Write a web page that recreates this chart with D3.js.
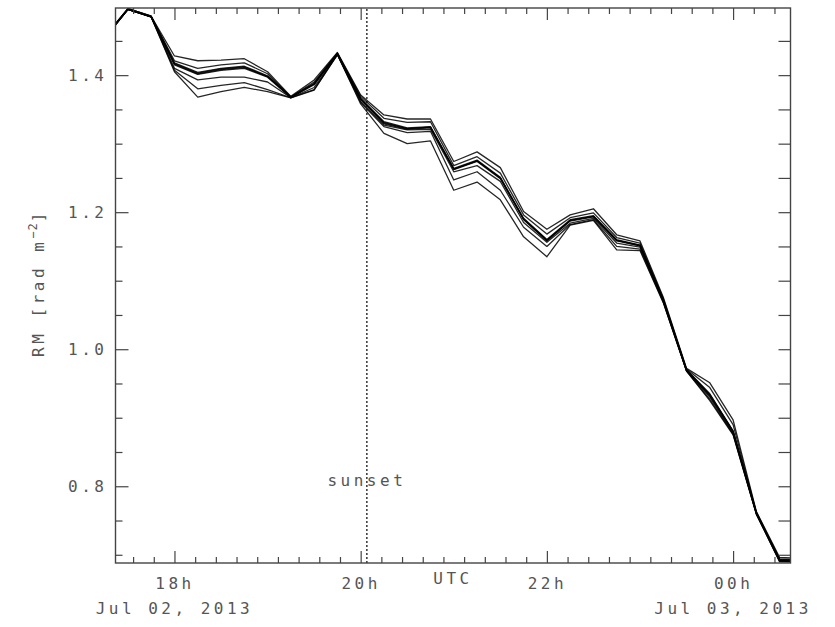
<!DOCTYPE html>
<html>
<head>
<meta charset="utf-8">
<script src="https://cdn.jsdelivr.net/npm/d3@7"></script>
<style>
    body { margin: 0; background: #fff; }
    svg text { font-family: "DejaVu Sans Mono", "Liberation Mono", monospace; fill: #555; }
</style>
</head>
<body>
<div id="container"></div>
<script>

// sample times, UTC, Jul 02 -> Jul 03 2013 (15 min steps)
const times = ["17:15", "17:30", "17:45", "18:00", "18:15", "18:30", "18:45", "19:00",
    "19:15", "19:30", "19:45", "20:00", "20:15", "20:30", "20:45", "21:00",
    "21:15", "21:30", "21:45", "22:00", "22:15", "22:30", "22:45", "23:00",
    "23:15", "23:30", "23:45", "00:00", "00:15", "00:30", "00:45"]

// RM [rad m^-2], one array per curve
const rm1 = [1.456, 1.497, 1.486, 1.428, 1.421, 1.422, 1.424, 1.405, 1.369, 1.393, 1.433, 1.371, 1.342, 1.336, 1.336, 1.274,
    1.288, 1.265, 1.201, 1.175, 1.196, 1.205, 1.167, 1.158, 1.076, 0.972, 0.951, 0.897, 0.763, 0.696, 0.695]
const rm2 = [1.456, 1.497, 1.486, 1.421, 1.410, 1.415, 1.418, 1.402, 1.368, 1.390, 1.432, 1.369, 1.337, 1.331, 1.332, 1.268,
    1.281, 1.257, 1.196, 1.168, 1.192, 1.199, 1.163, 1.155, 1.074, 0.971, 0.944, 0.890, 0.762, 0.694, 0.693]
const rm3 = [1.455, 1.497, 1.486, 1.418, 1.404, 1.410, 1.413, 1.399, 1.368, 1.388, 1.432, 1.366, 1.332, 1.323, 1.325, 1.264,
    1.276, 1.251, 1.191, 1.160, 1.189, 1.195, 1.160, 1.152, 1.072, 0.970, 0.935, 0.881, 0.762, 0.693, 0.692]
const rm4 = [1.455, 1.496, 1.485, 1.417, 1.403, 1.409, 1.412, 1.398, 1.368, 1.387, 1.431, 1.366, 1.331, 1.322, 1.324, 1.263,
    1.275, 1.250, 1.190, 1.159, 1.188, 1.194, 1.159, 1.152, 1.072, 0.970, 0.934, 0.880, 0.761, 0.693, 0.692]
const rm5 = [1.455, 1.496, 1.485, 1.416, 1.402, 1.408, 1.411, 1.398, 1.368, 1.387, 1.431, 1.365, 1.330, 1.322, 1.324, 1.263,
    1.275, 1.250, 1.190, 1.159, 1.188, 1.194, 1.159, 1.151, 1.071, 0.969, 0.933, 0.880, 0.761, 0.692, 0.691]
const rm6 = [1.454, 1.496, 1.485, 1.415, 1.401, 1.407, 1.410, 1.397, 1.367, 1.386, 1.431, 1.365, 1.329, 1.321, 1.323, 1.262,
    1.274, 1.249, 1.189, 1.158, 1.187, 1.193, 1.158, 1.151, 1.071, 0.969, 0.932, 0.879, 0.760, 0.692, 0.691]
const rm7 = [1.454, 1.496, 1.485, 1.410, 1.393, 1.397, 1.397, 1.390, 1.367, 1.382, 1.430, 1.362, 1.327, 1.320, 1.321, 1.259,
    1.268, 1.245, 1.185, 1.156, 1.184, 1.191, 1.155, 1.149, 1.070, 0.969, 0.930, 0.877, 0.760, 0.691, 0.690]
const rm8 = [1.454, 1.496, 1.485, 1.407, 1.380, 1.385, 1.389, 1.379, 1.367, 1.379, 1.430, 1.360, 1.325, 1.316, 1.318, 1.247,
    1.259, 1.232, 1.178, 1.150, 1.182, 1.189, 1.150, 1.146, 1.069, 0.968, 0.927, 0.876, 0.760, 0.690, 0.690]
const rm9 = [1.453, 1.496, 1.485, 1.405, 1.368, 1.376, 1.382, 1.376, 1.367, 1.378, 1.430, 1.358, 1.315, 1.300, 1.304, 1.232,
    1.244, 1.218, 1.164, 1.135, 1.181, 1.188, 1.145, 1.144, 1.068, 0.968, 0.925, 0.875, 0.759, 0.690, 0.689]

const curves = [rm1, rm2, rm3, rm4, rm5, rm6, rm7, rm8, rm9]

const xMajorTicks = ["18:00", "20:00", "22:00", "00:00"]
const xTickLabels = ["18h", "20h", "22h", "00h"]
const dateLabels = ["Jul 02, 2013", "Jul 03, 2013"]
const yMajorTicks = [0.8, 1.0, 1.2, 1.4]
const sunsetTime = "20:04"


function toDate(t) {
    let h = +t.slice(0, 2), m = +t.slice(3)
    // hours before noon belong to the next day
    return new Date(Date.UTC(2013, 6, h < 12 ? 3 : 2, h, m))
}

const dates = times.map(toDate)

let width = 835
let height = 627
let margin = {top: 8, right: 44.5, bottom: 64, left: 115.5}
let fontSize = 16, spacing = 3.5

let svg = d3.select("#container")
    .append("svg")
    .attr("width", width)
    .attr("height", height)

let x = d3.scaleUtc()
    .domain([toDate("17:22"), toDate("00:37")])
    .range([margin.left, width - margin.right])

let y = d3.scaleLinear()
    .domain([0.688, 1.498])
    .range([height - margin.bottom, margin.top])

let x0 = margin.left, x1 = width - margin.right
let y0 = height - margin.bottom, y1 = margin.top

// minor ticks, IDL style: 9 intervals per 2 h, 0.05 in RM
let step = 2 * 3600e3 / 9
let xMinor = d3.range(-3, 30)
    .filter(i => i % 9 != 0)
    .map(i => new Date(+toDate("18:00") + i * step))
    .filter(d => d >= x.domain()[0] && d <= x.domain()[1])
let yMinor = d3.range(14, 30).map(i => i * 0.05).filter(v => Math.abs(v * 5 - Math.round(v * 5)) > 1e-6)
let xMajor = xMajorTicks.map(toDate)

svg.append("defs").append("clipPath")
    .attr("id", "plotclip")
    .append("rect")
    .attr("x", x0).attr("y", y1)
    .attr("width", x1 - x0).attr("height", y0 - y1)

// curves
let line = d3.line()
    .x((d, i) => x(dates[i]))
    .y(d => y(d))

svg.append("g")
    .attr("clip-path", "url(#plotclip)")
    .selectAll("path")
    .data(curves)
    .join("path")
        .attr("d", line)
        .attr("fill", "none")
        .attr("stroke", "#000")
        .attr("stroke-width", 1.3)
        .attr("stroke-opacity", 0.85)
        .attr("stroke-linejoin", "round")

// sunset marker
svg.append("line")
    .attr("x1", x(toDate(sunsetTime))).attr("x2", x(toDate(sunsetTime)))
    .attr("y1", y0).attr("y2", y1)
    .attr("stroke", "#000")
    .attr("stroke-width", 1.2)
    .attr("stroke-dasharray", "2,2")

svg.append("text")
    .attr("x", x(toDate(sunsetTime)))
    .attr("y", 486)
    .attr("text-anchor", "middle")
    .attr("font-size", fontSize)
    .attr("letter-spacing", spacing)
    .text("sunset")

function styleAxis(g) {
    g.select(".domain").remove()
    g.selectAll(".tick line").attr("stroke", "#444").attr("stroke-width", 1.2)
    g.selectAll(".tick text")
        .attr("font-size", fontSize)
        .attr("letter-spacing", spacing)
        .attr("font-family", null)
        .attr("fill", "#555")
}

// left
svg.append("g").attr("transform", `translate(${x0},0)`)
    .call(d3.axisLeft(y).tickValues(yMinor).tickSize(-7).tickFormat(""))
    .call(styleAxis)
svg.append("g").attr("transform", `translate(${x0},0)`)
    .call(d3.axisLeft(y).tickValues(yMajorTicks).tickSize(-13).tickPadding(8).tickFormat(d3.format(".1f")))
    .call(styleAxis)

// right
svg.append("g").attr("transform", `translate(${x1},0)`)
    .call(d3.axisRight(y).tickValues(yMinor.concat(yMajorTicks)).tickSize(-12).tickFormat(""))
    .call(styleAxis)

// bottom
svg.append("g").attr("transform", `translate(0,${y0})`)
    .call(d3.axisBottom(x).tickValues(xMinor).tickSize(-6).tickFormat(""))
    .call(styleAxis)
svg.append("g").attr("transform", `translate(0,${y0})`)
    .call(d3.axisBottom(x).tickValues(xMajor).tickSize(-12).tickPadding(15)
        .tickFormat((d, i) => xTickLabels[i]))
    .call(styleAxis)

// top
svg.append("g").attr("transform", `translate(0,${y1})`)
    .call(d3.axisTop(x).tickValues(xMinor).tickSize(-6).tickFormat(""))
    .call(styleAxis)
svg.append("g").attr("transform", `translate(0,${y1})`)
    .call(d3.axisTop(x).tickValues(xMajor).tickSize(-12).tickFormat(""))
    .call(styleAxis)

// frame
svg.append("rect")
    .attr("x", x0).attr("y", y1)
    .attr("width", x1 - x0).attr("height", y0 - y1)
    .attr("fill", "none")
    .attr("stroke", "#444")
    .attr("stroke-width", 1.4)

// dates under first and last hour ticks
svg.append("g")
    .selectAll("text")
    .data(dateLabels)
    .join("text")
        .attr("x", (d, i) => x(i == 0 ? xMajor[0] : xMajor[xMajor.length - 1]))
        .attr("y", 614)
        .attr("text-anchor", "middle")
        .attr("font-size", fontSize)
        .attr("letter-spacing", spacing)
        .text(d => d)

svg.append("text")
    .attr("x", (x0 + x1) / 2)
    .attr("y", 584)
    .attr("text-anchor", "middle")
    .attr("font-size", fontSize)
    .attr("letter-spacing", spacing)
    .text("UTC")

// y title
let ylab = svg.append("text")
    .attr("transform", "translate(44,283) rotate(-90)")
    .attr("text-anchor", "middle")
    .attr("font-size", fontSize)
    .attr("letter-spacing", spacing)
ylab.append("tspan").text("RM [rad m")
ylab.append("tspan").attr("font-size", 12).attr("letter-spacing", 1).attr("dy", -7).text("−2")
ylab.append("tspan").attr("dy", 7).text("]")

</script>
</body>
</html>
